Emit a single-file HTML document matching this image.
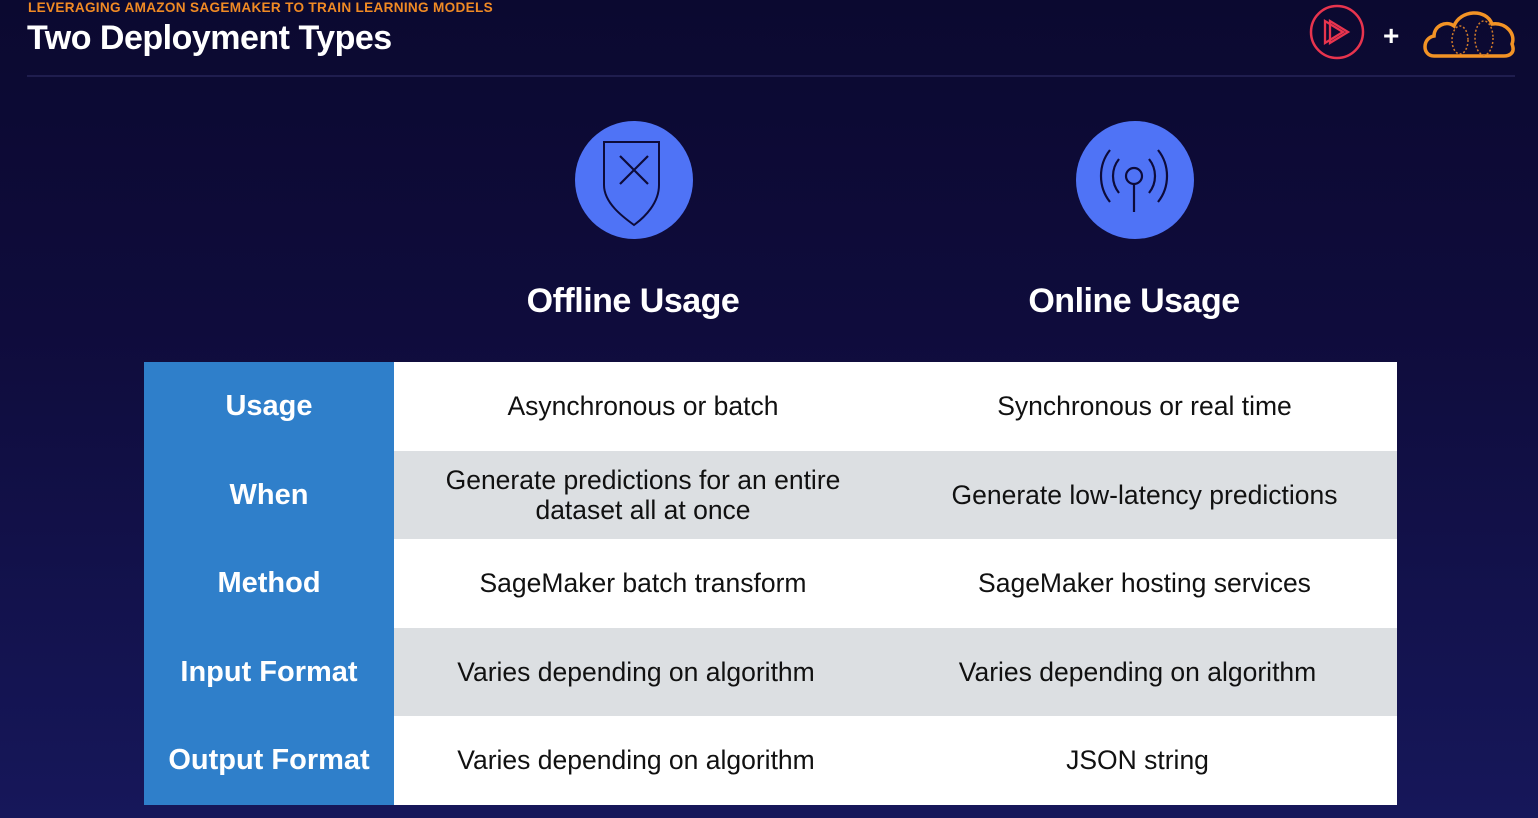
<!DOCTYPE html>
<html><head><meta charset="utf-8"><style>
html,body{margin:0;padding:0}
body{width:1538px;height:818px;overflow:hidden;position:relative;font-family:"Liberation Sans",sans-serif;
background:linear-gradient(180deg,#0b0930 0%,#0f0c3c 40%,#16175a 100%);}
.sub{position:absolute;left:28px;top:0px;color:#f08a24;font-size:13.6px;font-weight:bold;letter-spacing:0.3px}
.title{position:absolute;left:27px;top:19px;color:#fff;font-size:34px;font-weight:bold;letter-spacing:-0.5px}
.hr{position:absolute;left:27px;top:75px;width:1488px;height:2px;background:#1f1d4e}
.circ{position:absolute;top:121px;width:118px;height:118px;border-radius:50%;background:#4f73f6}
.h{position:absolute;top:282px;color:#fff;font-size:34px;font-weight:bold;width:400px;text-align:center;letter-spacing:-0.5px}
table{position:absolute;left:144px;top:362px;width:1253px;border-collapse:collapse;table-layout:fixed}
td{height:88.5px;padding:0;text-align:center;font-size:26.5px;color:#111;line-height:30px}
td.l{background:#2f7fca;color:#fff;font-weight:bold;font-size:29px}
tr.w td.c{background:#fff}
tr.g td.c{background:#dcdfe2}
</style></head><body>
<div class="sub">LEVERAGING AMAZON SAGEMAKER TO TRAIN LEARNING MODELS</div>
<div class="title">Two Deployment Types</div>
<div class="hr"></div>
<svg style="position:absolute;left:1308px;top:3px" width="60" height="60"><circle cx="29" cy="29" r="26" fill="none" stroke="#e8344e" stroke-width="2.5"/><path d="M17 18 L17 40 L35 29 Z M22 18 L22 40 L40 29 Z" fill="none" stroke="#e8344e" stroke-width="2.3"/></svg>
<div style="position:absolute;left:1383px;top:20px;color:#fff;font-size:28px;font-weight:bold">+</div>
<svg style="position:absolute;left:1420px;top:2px" width="100" height="60"><path d="M14 54 C2 54 2 36 14 34 C14 24 26 18 34 24 C40 8 66 6 72 22 C86 20 96 32 92 42 C96 52 88 54 84 54 Z" fill="none" stroke="#f39325" stroke-width="3.5"/><ellipse cx="40" cy="38" rx="8" ry="14" fill="none" stroke="#d07a2a" stroke-width="1.5" stroke-dasharray="2 2"/><ellipse cx="64" cy="36" rx="9" ry="17" fill="none" stroke="#d07a2a" stroke-width="1.5" stroke-dasharray="2 2"/></svg>
<div class="circ" style="left:575px"></div>
<svg style="position:absolute;left:575px;top:121px" width="118" height="118"><path d="M29 21 H84 V64 C84 82 70 96 59 104 C48 96 29 82 29 64 Z" fill="none" stroke="#0d0b3a" stroke-width="2"/><path d="M45 35 L73 63 M73 35 L45 63" stroke="#0d0b3a" stroke-width="2.2"/></svg>
<div class="circ" style="left:1076px"></div>
<svg style="position:absolute;left:1076px;top:121px" width="118" height="118" fill="none" stroke="#0d0b3a" stroke-width="2.2"><circle cx="58" cy="55" r="8"/><path d="M58 63 V91"/><path d="M43 38 C35 48 35 62 43 72 M73 38 C81 48 81 62 73 72 M34 29 C22 44 22 66 34 81 M82 29 C94 44 94 66 82 81"/></svg>
<div class="h" style="left:433px">Offline Usage</div>
<div class="h" style="left:934px">Online Usage</div>
<table>
<colgroup><col style="width:250px"><col style="width:498px"><col style="width:505px"></colgroup>
<tr class="w"><td class="l">Usage</td><td class="c">Asynchronous or batch</td><td class="c">Synchronous or real time</td></tr>
<tr class="g"><td class="l">When</td><td class="c">Generate predictions for an entire<br>dataset all at once</td><td class="c">Generate low-latency predictions</td></tr>
<tr class="w"><td class="l">Method</td><td class="c">SageMaker batch transform</td><td class="c">SageMaker hosting services</td></tr>
<tr class="g"><td class="l">Input Format</td><td class="c" style="padding-right:14px">Varies depending on algorithm</td><td class="c" style="padding-right:14px">Varies depending on algorithm</td></tr>
<tr class="w"><td class="l">Output Format</td><td class="c" style="padding-right:14px">Varies depending on algorithm</td><td class="c" style="padding-right:14px">JSON string</td></tr>
</table>
</body></html>
